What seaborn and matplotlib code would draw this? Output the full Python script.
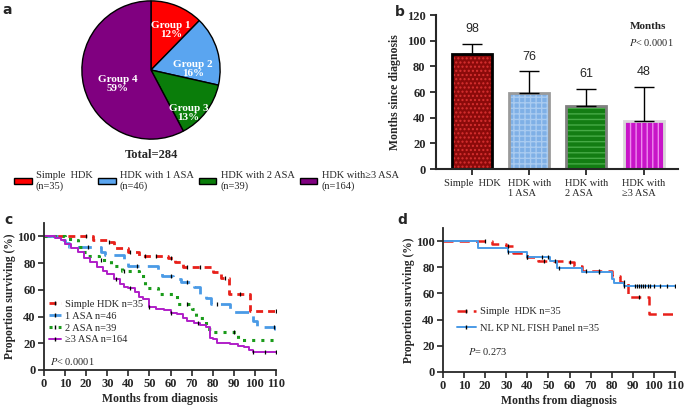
import numpy as np
import matplotlib.pyplot as plt
import seaborn as sns
from matplotlib.lines import Line2D
from matplotlib.patches import Patch

# ---- panel a: group sizes
pie_groups = ["Group 1", "Group 2", "Group 3", "Group 4"]
pie_n = [35, 46, 39, 164]
pie_pct = ["12%", "16%", "13%", "59%"]
pie_legend = ["Simple  HDK\n(n=35)", "HDK with 1 ASA\n(n=46)",
              "HDK with 2 ASA\n(n=39)", "HDK with\u22653 ASA\n(n=164)"]

# ---- panel b: months since diagnosis
bar_cats = ["Simple  HDK", "HDK with\n1 ASA", "HDK with\n2 ASA", "HDK with\n\u22653 ASA"]
bar_mean = [90, 59.5, 49, 37.5]
bar_upper = [97.5, 76, 62.5, 64]
bar_text = ["98", "76", "61", "48"]

# ---- panel c: KM curves (time, % surviving) and censor times
red_t = [0, 23, 30, 33, 40, 45, 59, 62, 66, 80, 84, 87.5, 97.5, 110]
red_s = [100, 97.5, 96, 91, 88, 85, 84, 81, 77, 73, 69, 57, 44, 44]
red_cens = [20, 31, 41, 48, 53, 60, 68, 74, 86, 93, 110]

blue_t = [0, 8, 10, 12, 27, 29, 38, 40, 54, 56, 61, 65, 71, 74, 77, 79, 88, 99, 101, 109.5, 110]
blue_s = [100, 97, 95, 92, 88, 86, 83, 78, 73, 70, 68, 66, 62, 57, 54, 49.5, 43.5, 37, 32.5, 26, 26]
blue_cens = [21, 44, 60, 68, 82, 109]

green_t = [0, 10, 14, 16, 18, 21, 26, 32, 37, 45, 48, 54, 63, 70, 72, 77, 80, 92, 110]
green_s = [100, 98, 97, 92, 88, 85, 82, 78, 74, 70, 61, 57, 49.5, 46, 39, 31, 28.5, 22.5, 22.5]
green_cens = [27, 38, 68, 90]

purple_t = [0, 5, 8, 10, 13, 16, 19, 22, 25, 28, 30, 33, 36, 38, 40, 43, 45, 47, 50, 53, 57,
            60, 63, 66, 68, 71, 74, 77, 78.5, 80, 82, 88, 92, 95, 97, 99, 110]
purple_s = [100, 99, 97, 94, 91, 88, 84, 81, 77, 74, 72, 68, 64, 62, 61, 58, 55, 53, 47, 46, 45,
            43, 42, 39, 37, 35, 33.5, 32, 24, 23, 20.5, 19.5, 18, 17, 15, 13.7, 13.7]
purple_cens = [34, 41, 50, 60, 73, 99, 105, 110]

# ---- panel d
nl_t = [0, 16.6, 31, 40, 50.7, 54, 65.8, 80, 81, 85.8, 110]
nl_s = [100, 94.5, 91.3, 88, 84.8, 79.7, 76.4, 71.3, 68.2, 65.6, 65.6]
nl_cens = [31, 40, 47, 50, 55, 74, 86, 91, 92, 93, 94, 95, 96, 97, 98, 100, 103, 106, 110]
red_d_cens = [20, 31, 40, 48, 53, 60, 68, 74, 86, 93]

sns.set_style("ticks")
plt.rcParams["font.family"] = ["Liberation Serif", "DejaVu Serif"]
plt.rcParams["mathtext.fontset"] = "stix"
plt.rcParams["hatch.linewidth"] = 1.0

W, H = 685, 408
fig = plt.figure(figsize=(6.85, 4.08), dpi=100)


def px_axes(l, t, r, b):
    return fig.add_axes([l / W, 1 - b / H, (r - l) / W, (b - t) / H])


def surv_at(t, s, times):
    idx = np.searchsorted(np.asarray(t), times, side="right") - 1
    return np.asarray(s)[idx]


# ================= a =================
pie_colors = ["#ff0000", "#5aa5f0", "#0a7d0a", "#800080"]
axa = px_axes(80.5, -0.5, 221.5, 140.5)
axa.pie(pie_n, colors=pie_colors, startangle=90, counterclock=False,
        wedgeprops=dict(edgecolor="black", linewidth=1))
axa.set_xlim(-1.02, 1.02)
axa.set_ylim(-1.02, 1.02)
label_xy = [(0.29, 0.58), (0.61, 0.01), (0.54, -0.62), (-0.48, -0.2)]
for (lx, ly), g, p in zip(label_xy, pie_groups, pie_pct):
    axa.text(lx, ly, f"{g}\n{p}", ha="center", va="center", color="white",
             fontsize=8, fontweight="bold", linespacing=1.05)
axa.text(0, -1.23, f"Total={sum(pie_n)}", ha="center", va="center",
         fontsize=9, fontweight="bold", clip_on=False)

handles = [Patch(facecolor=c, edgecolor="black", linewidth=1) for c in pie_colors]
fig.legend(handles, pie_legend, ncol=4, loc="upper left",
           bbox_to_anchor=(14 / W, 1 - 171 / H), frameon=False,
           fontsize=7.5, handlelength=1.7, handleheight=0.6,
           handletextpad=0.4, columnspacing=0.5, borderpad=0, borderaxespad=0)

# ================= b =================
bar_face = ["#8b0a0a", "#7fb0e6", "#137d13", "#c814c8"]
bar_hatch_col = ["#d83030", "#a9cbf0", "#46aa46", "#ee88ee"]
bar_hatch = ["....", "+++", "---", "|||"]
bar_edge = ["black", "#9a9a9a", "#808080", "#d8d8d8"]

axb = px_axes(436, 15, 678, 169)
sns.barplot(x=bar_cats, y=bar_mean, hue=bar_cats, palette=bar_face, legend=False,
            width=0.7, linewidth=0, saturation=1, ax=axb)
for p, hc, h in zip(axb.patches, bar_hatch_col, bar_hatch):
    p.set_hatch(h)
    p.set_edgecolor(hc)
    p.set_linewidth(0)
sns.barplot(x=bar_cats, y=bar_mean, hue=bar_cats, palette=bar_edge, legend=False,
            width=0.7, fill=False, linewidth=2, saturation=1, ax=axb)
axb.errorbar(x=np.arange(len(bar_cats)), y=bar_mean,
             yerr=[np.zeros(len(bar_mean)), np.subtract(bar_upper, bar_mean)],
             fmt="none", ecolor="black", elinewidth=1, capsize=7, capthick=1, zorder=5)
for i, (u, txt) in enumerate(zip(bar_upper, bar_text)):
    axb.text(i, u + 11.5, txt, ha="center", va="center", fontsize=9,
             family="Liberation Sans")
axb.text(2.75, 111, "Months", fontsize=8, fontweight="bold", va="center")
axb.text(2.75, 98.5, "$P$< 0.0001", fontsize=7.5, va="center")
axb.set_ylim(0, 120)
axb.set_xlim(-0.63, 3.6)
axb.set_yticks(range(0, 121, 20))
axb.set_ylabel("Months since diagnosis", fontsize=8.5, fontweight="bold")
axb.tick_params(axis="y", labelsize=9, width=1.3, length=4)
axb.tick_params(axis="x", labelsize=7.5, width=1.3, length=4, pad=3)
for lab in axb.get_yticklabels():
    lab.set_fontweight("bold")
for lab in axb.get_xticklabels():
    lab.set_multialignment("left")
sns.despine(ax=axb)
for s in ["left", "bottom"]:
    axb.spines[s].set_linewidth(1.5)


# ================= c / d =================
def km(ax, t, s, cens, color, ls, lw):
    sns.lineplot(x=t, y=s, drawstyle="steps-post", estimator=None, color=color,
                 linestyle=ls, linewidth=lw, ax=ax)
    ax.plot(cens, surv_at(t, s, cens), ls="none", marker="|", color="black",
            ms=3.5, mew=0.9, zorder=4)


def km_axes(ax):
    ax.set_xlim(0, 110)
    ax.set_ylim(0, 110)
    ax.set_xticks(range(0, 111, 10))
    ax.set_yticks(range(0, 101, 20))
    ax.set_xlabel("Months from diagnosis", fontsize=8.5, fontweight="bold", labelpad=2)
    ax.set_ylabel("Proportion surviving (%)", fontsize=8.3, fontweight="bold", labelpad=1)
    ax.tick_params(labelsize=9, width=1.2, length=4, pad=2)
    for lab in ax.get_xticklabels() + ax.get_yticklabels():
        lab.set_fontweight("bold")
    sns.despine(ax=ax)
    for s in ["left", "bottom"]:
        ax.spines[s].set_linewidth(1.3)


c_red, c_blue, c_green, c_purple = "#e8201a", "#4a9ae6", "#1a9b1a", "#b01ec8"
ls_red, ls_blue, ls_green = (0, (2.5, 1.8)), (0, (5, 3)), (0, (1, 2))

axc = px_axes(44, 223, 276, 370)
km(axc, red_t, red_s, red_cens, c_red, ls_red, 2)
km(axc, blue_t, blue_s, blue_cens, c_blue, ls_blue, 2)
km(axc, green_t, green_s, green_cens, c_green, ls_green, 2.2)
km(axc, purple_t, purple_s, purple_cens, c_purple, "-", 1.4)
km_axes(axc)
hc = [Line2D([], [], color=c, linestyle=l, linewidth=w, marker="|", mec="black", ms=3.5)
      for c, l, w in [(c_red, ls_red, 2), (c_blue, ls_blue, 2),
                      (c_green, ls_green, 2.2), (c_purple, "-", 1.4)]]
axc.legend(hc, ["Simple HDK n=35", "1 ASA n=46", "2 ASA n=39", "\u22653 ASA n=164"],
           loc="upper left", bbox_to_anchor=(0.02, 0.48), frameon=False, fontsize=7.5,
           handlelength=1.2, handletextpad=0.4, labelspacing=0.25,
           borderpad=0, borderaxespad=0)
axc.text(3, 6.3, "$P$< 0.0001", fontsize=7.5, va="center")

axd = px_axes(443, 228, 675, 372)
km(axd, red_t, red_s, red_d_cens, c_red, (0, (4, 2.5)), 1.8)
km(axd, nl_t, nl_s, nl_cens, c_blue, "-", 1.4)
km_axes(axd)
hd = [Line2D([], [], color=c_red, linestyle=(0, (4, 2.5)), linewidth=1.8, marker="|",
             mec="black", ms=3.5),
      Line2D([], [], color=c_blue, linestyle="-", linewidth=1.4, marker="|",
             mec="black", ms=3.5)]
axd.legend(hd, ["Simple  HDK n=35", "NL KP NL FISH Panel n=35"],
           loc="upper left", bbox_to_anchor=(0.06, 0.45), frameon=False, fontsize=7.5,
           handlelength=1.8, handletextpad=0.4, labelspacing=0.7,
           borderpad=0, borderaxespad=0)
axd.text(12, 15.4, "$P$= 0.273", fontsize=7.5, va="center")

# panel letters
for x, y, t in [(2, 10, "a"), (395, 12, "b"), (4, 220, "c"), (397, 220, "d")]:
    fig.text(x / W, 1 - y / H, t, fontsize=10, fontweight="bold",
             family="DejaVu Sans", va="center")

fig.savefig("out.png", dpi=100)
